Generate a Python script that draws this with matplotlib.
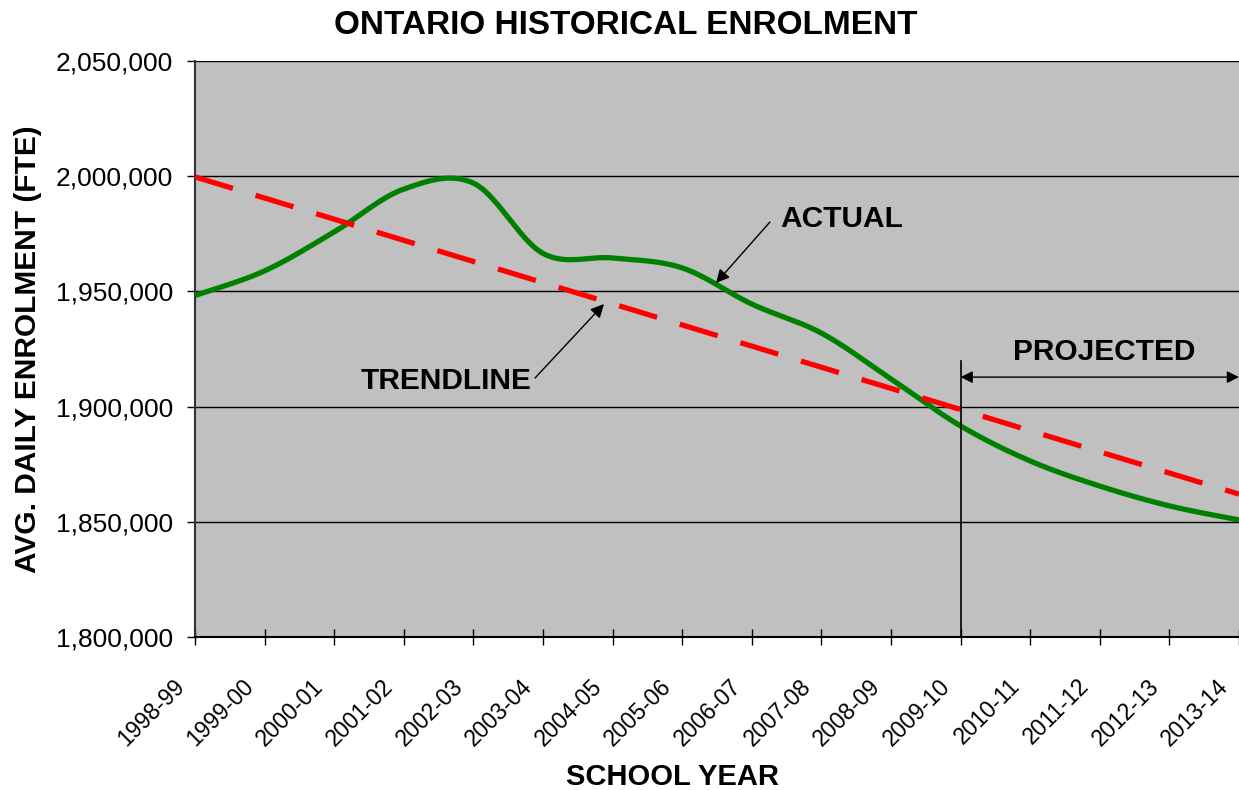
import numpy as np
import matplotlib.pyplot as plt
from matplotlib.transforms import ScaledTranslation

plt.rcParams['font.family'] = ['Liberation Sans', 'DejaVu Sans']

# school years on the x axis
years = ['1998-99', '1999-00', '2000-01', '2001-02', '2002-03', '2003-04',
         '2004-05', '2005-06', '2006-07', '2007-08', '2008-09', '2009-10',
         '2010-11', '2011-12', '2012-13', '2013-14']

# average daily enrolment (FTE), actual + projected
actual = [1948200, 1958900, 1975800, 1994400, 1997000, 1966500,
          1964500, 1960200, 1944500, 1931900, 1912000, 1891600,
          1876400, 1865500, 1856900, 1850800]

# linear trendline, start and end values
trend_idx = [0, 15]
trend_vals = [1999700, 1862000]

proj_start = 11  # 2009-10


def smooth(xs, ys, n=40):
    # catmull-rom curve through the points (like excel "smoothed line")
    xs = np.asarray(xs, float)
    ys = np.asarray(ys, float)
    px = np.concatenate([[xs[0]], xs, [xs[-1]]])
    py = np.concatenate([[ys[0]], ys, [ys[-1]]])
    ox, oy = [], []
    t = np.linspace(0, 1, n, endpoint=False)
    for i in range(1, len(px) - 2):
        for p, out in ((px, ox), (py, oy)):
            p0, p1, p2, p3 = p[i - 1], p[i], p[i + 1], p[i + 2]
            m1 = (p2 - p0) / 2
            m2 = (p3 - p1) / 2
            h00 = 2 * t**3 - 3 * t**2 + 1
            h10 = t**3 - 2 * t**2 + t
            h01 = -2 * t**3 + 3 * t**2
            h11 = t**3 - t**2
            out.extend(h00 * p1 + h10 * m1 + h01 * p2 + h11 * m2)
    ox.append(xs[-1])
    oy.append(ys[-1])
    return np.array(ox), np.array(oy)


fig = plt.figure(figsize=(12.39, 7.90), dpi=100)
ax = fig.add_axes([195 / 1239, 153 / 790, 1044 / 1239, 576 / 790])
ax.set_facecolor('#C0C0C0')

x = np.arange(len(years))
sx, sy = smooth(x, actual)
ax.plot(sx, sy, color='#008000', linewidth=3.8, solid_capstyle='butt', zorder=3)
ax.plot(trend_idx, trend_vals, color='#FF0000', linewidth=3.8,
        dashes=(7.5, 4.5), dash_capstyle='butt', zorder=3)

ax.set_xlim(0, 15)
ax.set_ylim(1800000, 2050000)
ax.set_yticks(np.arange(1800000, 2050001, 50000))
ax.set_yticklabels([f'{v:,}' for v in range(1800000, 2050001, 50000)])
ax.set_xticks(x)
ax.set_xticklabels(years, rotation=45, ha='right', va='top',
                   rotation_mode='default')
ax.tick_params(axis='y', direction='out', length=6, width=1, pad=10, labelsize=19)
ax.tick_params(axis='x', direction='inout', length=12, width=1, pad=21, labelsize=16.5)
shift = ScaledTranslation(-6 / 100, 0, fig.dpi_scale_trans)
for lab in ax.get_xticklabels():
    lab.set_transform(lab.get_transform() + shift)
ax.grid(axis='y', color='black', linewidth=1)
ax.set_axisbelow(True)

for s in ('top', 'right'):
    ax.spines[s].set_visible(False)
ax.spines['left'].set_color('#333333')
ax.spines['bottom'].set_color('black')
ax.spines['left'].set_linewidth(1.5)
ax.spines['bottom'].set_linewidth(1.5)

# projected section marker
ax.plot([proj_start, proj_start], [1800000, 1920000], color='black',
        linewidth=1.2, zorder=4)
ax.annotate('', xy=(15, 1912800), xytext=(proj_start, 1912800),
            arrowprops=dict(arrowstyle='<|-|>', color='black', lw=1,
                            mutation_scale=18, shrinkA=0, shrinkB=0),
            annotation_clip=False, zorder=5)
ax.text(13.07, 1923700, 'PROJECTED', ha='center', va='center',
        fontsize=21.5, fontweight='bold')

# callouts
ax.text(8.405, 1981400, 'ACTUAL', ha='left', va='center',
        fontsize=21.5, fontweight='bold')
ax.annotate('', xy=(7.486, 1953650), xytext=(8.26, 1980100),
            arrowprops=dict(arrowstyle='-|>', color='black', lw=1,
                            mutation_scale=20, shrinkA=0, shrinkB=0))
ax.text(3.606, 1911100, 'TRENDLINE', ha='center', va='center',
        fontsize=21.5, fontweight='bold')
ax.annotate('', xy=(5.876, 1944500), xytext=(4.885, 1912400),
            arrowprops=dict(arrowstyle='-|>', color='black', lw=1,
                            mutation_scale=20, shrinkA=0, shrinkB=0))

fig.text(626 / 1239, 1 - 25 / 790, 'ONTARIO HISTORICAL ENROLMENT',
         ha='center', va='center', fontsize=24, fontweight='bold')
fig.text(673 / 1239, 1 - 777 / 790, 'SCHOOL YEAR',
         ha='center', va='center', fontsize=21, fontweight='bold')
fig.text(28 / 1239, 1 - 349 / 790, 'AVG. DAILY ENROLMENT (FTE)',
         ha='center', va='center', rotation=90, fontsize=21.5, fontweight='bold')

fig.savefig('out.png', dpi=100)
